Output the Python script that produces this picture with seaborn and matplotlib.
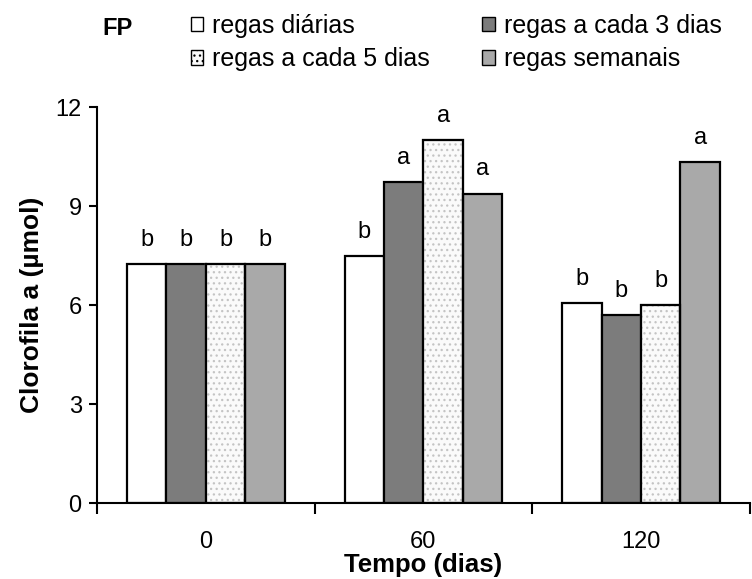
import pandas as pd
import seaborn as sns
import matplotlib.pyplot as plt
from matplotlib.patches import Patch, Rectangle

# Data
tempos = ['0', '60', '120']
tratamentos = ['regas diárias', 'regas a cada 3 dias', 'regas a cada 5 dias', 'regas semanais']
diarias = [7.25, 7.48, 6.05]
cada3 = [7.25, 9.72, 5.70]
cada5 = [7.25, 11.00, 6.00]
semanais = [7.25, 9.38, 10.33]
letras_diarias = ['b', 'b', 'b']
letras_cada3 = ['b', 'a', 'b']
letras_cada5 = ['b', 'a', 'b']
letras_semanais = ['b', 'a', 'a']

valores = [diarias, cada3, cada5, semanais]
letras = [letras_diarias, letras_cada3, letras_cada5, letras_semanais]

df = pd.DataFrame({
    'tempo': tempos * 4,
    'tratamento': [t for t in tratamentos for _ in tempos],
    'clorofila': [v for serie in valores for v in serie],
})

sns.set_style('white')
plt.rcParams['font.family'] = ['Liberation Sans', 'DejaVu Sans']
plt.rcParams['text.color'] = 'black'
plt.rcParams['axes.labelcolor'] = 'black'
plt.rcParams['xtick.color'] = 'black'
plt.rcParams['ytick.color'] = 'black'
plt.rcParams['hatch.linewidth'] = 0.9

fig = plt.figure(figsize=(7.52, 5.79), dpi=100)
ax = fig.add_axes([0.129, 0.131, 0.868, 0.684])

# fills for each treatment
faces = ['white', '#7c7c7c', '#fafafa', '#a9a9a9']
hatches = [None, None, '...', None]

sns.barplot(data=df, x='tempo', y='clorofila', hue='tratamento',
            order=tempos, hue_order=tratamentos, width=0.725, gap=0,
            palette=faces, edgecolor='black', linewidth=1.6,
            legend=False, ax=ax)

for i, cont in enumerate(ax.containers):
    for j, bar in enumerate(cont):
        bar.set_facecolor(faces[i])
        bar.set_edgecolor('black')
        if hatches[i]:
            # light gray dots, then a black outline on top
            bar.set_hatch(hatches[i])
            bar.set_edgecolor('#c4c4c4')
            ax.add_patch(Rectangle(bar.get_xy(), bar.get_width(), bar.get_height(),
                                   fill=False, edgecolor='black', linewidth=1.6, zorder=3))
        x = bar.get_x() + bar.get_width() / 2
        ax.text(x, bar.get_height() + 0.4, letras[i][j], ha='center',
                va='bottom', fontsize=17)

ax.set_ylim(0, 12)
ax.set_yticks([0, 3, 6, 9, 12])
ax.set_xlim(-0.5, 2.5)
ax.set_xticks([-0.5, 0.5, 1.5, 2.5])
ax.set_xticklabels([])
ax.set_xticks([0, 1, 2], minor=True)
ax.set_xticklabels(tempos, minor=True)
ax.tick_params(axis='x', which='major', direction='out', length=8, width=1.5, bottom=True)
ax.tick_params(axis='x', which='minor', length=0, pad=20, labelsize=17)
ax.tick_params(axis='y', direction='out', length=6, width=1.5, left=True, labelsize=17, pad=5)

sns.despine(ax=ax)
for s in ['left', 'bottom']:
    ax.spines[s].set_linewidth(1.5)
    ax.spines[s].set_color('black')

ax.set_ylabel('Clorofila a (µmol)', fontsize=19, fontweight='bold', labelpad=8)
ax.set_xlabel('Tempo (dias)', fontsize=18.5, fontweight='bold', labelpad=0)

handles = [Patch(facecolor=faces[i], edgecolor='black', hatch=hatches[i], label=tratamentos[i])
           for i in [0, 2, 1, 3]]
fig.legend(handles=handles, ncol=2, loc='upper left', bbox_to_anchor=(0.224, 1.015),
           frameon=False, fontsize=18, handlelength=0.5, handleheight=0.5,
           handletextpad=0.35, columnspacing=2.1, labelspacing=0.38)
fig.text(0.136, 0.951, 'FP', fontsize=17, fontweight='bold', va='center')

fig.savefig('out.png', dpi=100)
